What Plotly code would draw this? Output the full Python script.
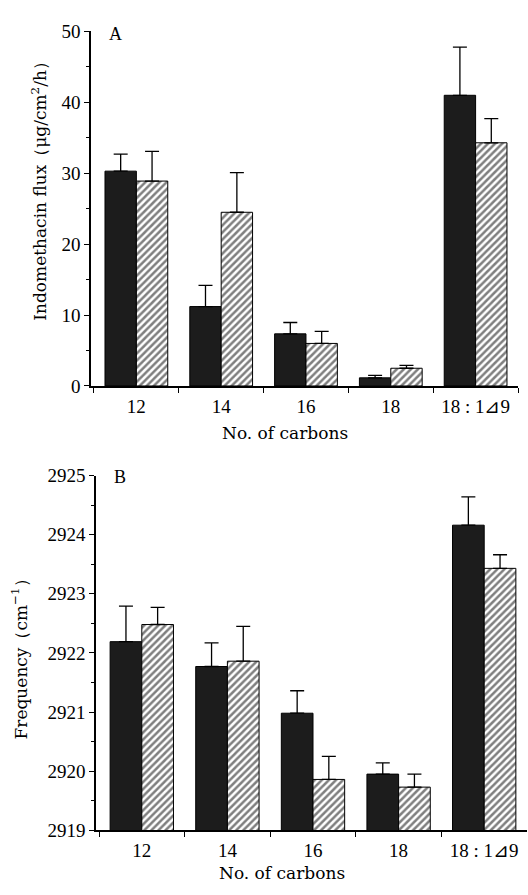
import plotly.graph_objects as go

categories = ["12", "14", "16", "18", "18 : 1⊿9"]

# Panel A: indomethacin flux
flux_black = [30.3, 11.2, 7.35, 1.15, 41.0]
flux_black_err = [32.7, 14.2, 8.95, 1.5, 47.8]
flux_hatch = [28.9, 24.5, 6.0, 2.5, 34.3]
flux_hatch_err = [33.1, 30.1, 7.7, 2.9, 37.7]

# Panel B: frequency
freq_black = [2922.19, 2921.77, 2920.98, 2919.95, 2924.16]
freq_black_err = [2922.79, 2922.17, 2921.36, 2920.14, 2924.64]
freq_hatch = [2922.48, 2921.86, 2919.86, 2919.73, 2923.43]
freq_hatch_err = [2922.77, 2922.45, 2920.25, 2919.95, 2923.66]

W, H = 528, 895
FONT = "Liberation Serif, Times New Roman, serif"
TFONT = "DejaVu Serif, serif"
BLACK = "#1c1c1c"


def px(x):
    return x / W


def py(y):
    return 1 - y / H


fig = go.Figure()


def add_pair(xa, ya, vb, eb, vh, eh):
    fig.add_trace(go.Bar(
        x=categories, y=vb, xaxis=xa, yaxis=ya,
        marker=dict(color=BLACK, line=dict(color="black", width=1)),
        error_y=dict(type="data", symmetric=False,
                     array=[e - v for e, v in zip(eb, vb)],
                     arrayminus=[0] * len(vb),
                     color="black", thickness=1.3, width=7),
        showlegend=False))
    fig.add_trace(go.Bar(
        x=categories, y=vh, xaxis=xa, yaxis=ya,
        marker=dict(color="white", line=dict(color="black", width=1),
                    pattern=dict(shape="/", fgcolor="black", bgcolor="white",
                                 size=5, solidity=0.5)),
        error_y=dict(type="data", symmetric=False,
                     array=[e - v for e, v in zip(eh, vh)],
                     arrayminus=[0] * len(vh),
                     color="black", thickness=1.3, width=7),
        showlegend=False))


add_pair("x", "y", flux_black, flux_black_err, flux_hatch, flux_hatch_err)
add_pair("x2", "y2", freq_black, freq_black_err, freq_hatch, freq_hatch_err)

tickfont = dict(family=FONT, size=19, color="black")
common_x = dict(type="category", tickson="boundaries", ticks="outside",
                ticklen=5, tickwidth=1, tickcolor="black", tickangle=0,
                showline=True, linecolor="black", linewidth=1.5,
                showgrid=False, zeroline=False, tickfont=tickfont,
                ticklabelstandoff=2,
                range=[-0.535, 4.5], fixedrange=True)
common_y = dict(ticks="outside", ticklen=5, tickwidth=1, tickcolor="black",
                showline=True, linecolor="black", linewidth=1.5,
                showgrid=False, zeroline=False, tickfont=tickfont,
                fixedrange=True)

fig.update_layout(
    width=W, height=H,
    margin=dict(l=0, r=0, t=0, b=0),
    paper_bgcolor="white", plot_bgcolor="white",
    barmode="group", bargap=0.26, bargroupgap=0,
    xaxis=dict(domain=[px(91), px(518)], anchor="y", **common_x),
    yaxis=dict(domain=[py(385), py(22)], anchor="x", range=[0, 50],
               dtick=10, minor=dict(dtick=5, ticks="outside", ticklen=3,
                                    tickcolor="black"),
               **common_y),
    xaxis2=dict(domain=[px(96), px(527)], anchor="y2", **common_x),
    yaxis2=dict(domain=[py(840), py(476.7)], anchor="x2", range=[2919, 2925],
                dtick=1, tickformat="d",
                minor=dict(dtick=0.5, ticks="outside", ticklen=3,
                           tickcolor="black"),
                **common_y),
)

labfont = dict(family=FONT, size=18, color="black")
ann = [
    dict(text="A", x=px(115), y=py(25), xref="paper", yref="paper",
         showarrow=False, font=labfont, xanchor="center", yanchor="middle"),
    dict(text="B", x=px(120), y=py(478), xref="paper", yref="paper",
         showarrow=False, font=labfont, xanchor="center", yanchor="middle"),
    dict(text="Indomethacin flux（μg/cm<sup>2</sup>/h）", x=px(39), y=py(181),
         xref="paper", yref="paper", showarrow=False, textangle=-90,
         font=dict(family=TFONT, size=17, color="black"),
         xanchor="center", yanchor="middle"),
    dict(text="Frequency（cm<sup>−1</sup>）", x=px(20), y=py(661),
         xref="paper", yref="paper", showarrow=False, textangle=-90,
         font=dict(family=TFONT, size=17, color="black"),
         xanchor="center", yanchor="middle"),
    dict(text="No. of carbons", x=px(285), y=py(433), xref="paper",
         yref="paper", showarrow=False,
         font=dict(family=TFONT, size=17, color="black"),
         xanchor="center", yanchor="middle"),
    dict(text="No. of carbons", x=px(282), y=py(884), xref="paper",
         yref="paper", showarrow=False,
         font=dict(family=TFONT, size=17, color="black"),
         xanchor="center", yanchor="middle"),
]
fig.update_layout(annotations=ann)

fig.write_html("out.html")
